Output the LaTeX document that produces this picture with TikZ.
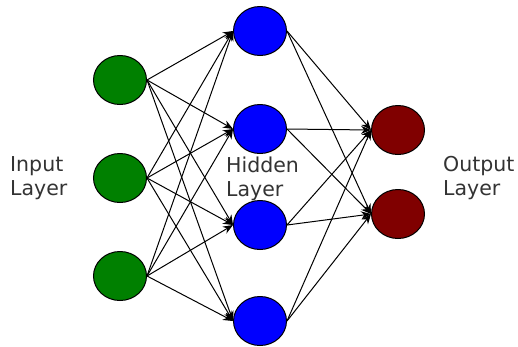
\documentclass[tikz,border=0pt]{standalone}
\usepackage{fontspec}
\setmainfont{DejaVu Sans}
\usepackage{xcolor}
\usetikzlibrary{arrows.meta, shapes.geometric}

\definecolor{inputgreen}{RGB}{0,128,0}
\definecolor{hiddenblue}{RGB}{0,0,255}
\definecolor{outputred}{RGB}{128,0,0}
\definecolor{labelgray}{RGB}{51,51,51}

\begin{document}
\begin{tikzpicture}[
      x=1pt, y=-1pt,
      neuron/.style={
        draw,
        ellipse,
        minimum width=53pt,
        minimum height=49pt,
        inner sep=0pt,
        line width=1pt
      },
      layerlabel/.style={
        align=left,
        anchor=base west,
        inner sep=0pt,
        text=labelgray,
        font=\fontsize{20.5}{24}\selectfont
      },
      arrow/.style={
        -{Stealth[length=10pt, width=8pt]},
        line width=1pt
      }
    ]
    \useasboundingbox (0,0) rectangle (518,346);

    % layers
    \foreach \i/\y in {1/80, 2/178, 3/276}
      \node[neuron, fill=inputgreen] (in\i) at (120,\y) {};
    \foreach \i/\y in {1/31, 2/129, 3/225, 4/321}
      \node[neuron, fill=hiddenblue] (hid\i) at (260,\y) {};
    \foreach \i/\y in {1/130, 2/214}
      \node[neuron, fill=outputred] (out\i) at (398,\y) {};

    % connections
    \foreach \i in {1,...,3}
      \foreach \j in {1,...,4}
        \draw[arrow] (in\i.east) -- (hid\j.west);
    \foreach \j in {1,...,4}
      \foreach \k in {1,2}
        \draw[arrow] (hid\j.east) -- (out\k.west);

    % labels
    \node[layerlabel] (inlabel) at (10,195) {Input\\Layer};
    \node[layerlabel] (hidlabel) at (226,196) {Hidden\\Layer};
    \node[layerlabel] (outlabel) at (443,195) {Output\\Layer};

  \end{tikzpicture}
\end{document}
